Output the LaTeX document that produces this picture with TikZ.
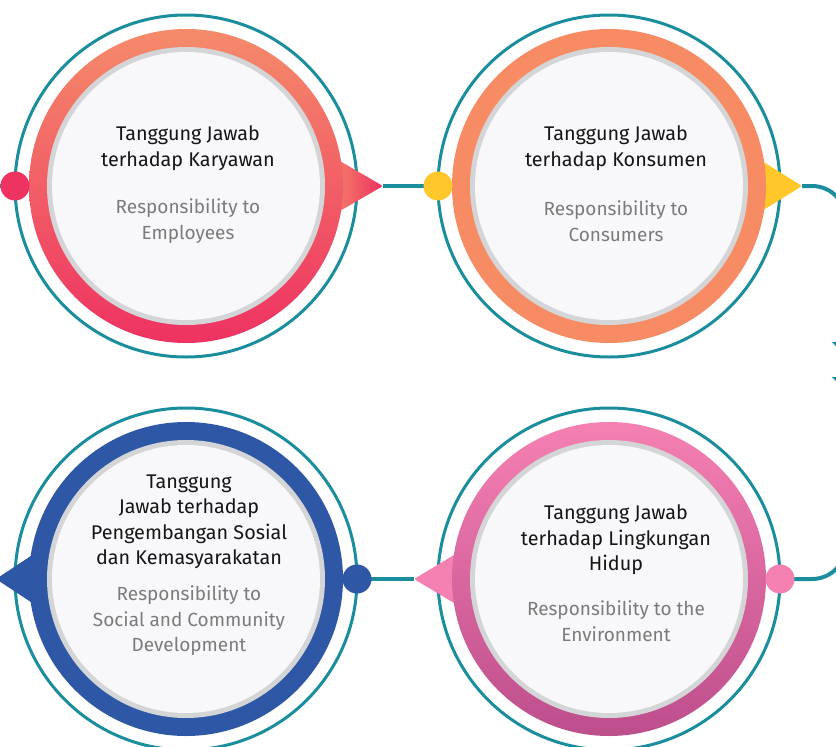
\documentclass[tikz,border=0pt]{standalone}
\usepackage{fontspec}
\setmainfont{Fira Sans}
\usetikzlibrary{positioning}
\definecolor{tealline}{HTML}{1B8E9E}
\definecolor{ringgray}{HTML}{D3D5D7}
\definecolor{innerfill}{HTML}{F8F8FB}
\definecolor{titlecol}{HTML}{151515}
\definecolor{subcol}{HTML}{7B7B7B}
\definecolor{coralA}{HTML}{F58B6A}
\definecolor{coralB}{HTML}{EE3262}
\definecolor{salmon}{HTML}{F78C64}
\definecolor{sunny}{HTML}{FFC72A}
\definecolor{royal}{HTML}{2E58A6}
\definecolor{pinkA}{HTML}{F580B2}
\definecolor{pinkB}{HTML}{BD4E8C}

\begin{document}
\begin{tikzpicture}[
    x=1pt, y=-1pt,
    outerring/.style={circle, draw=tealline, line width=3pt, minimum size=342pt,
                      inner sep=0pt, outer sep=0pt},
    dot/.style={circle, minimum size=29pt, inner sep=0pt, outer sep=0pt},
    link/.style={draw=tealline, line width=4pt},
    title/.style={font=\fontsize{19.8}{25.5}\selectfont, text=titlecol, align=center},
    sub/.style={font=\fontsize{19}{25.5}\selectfont, text=subcol, align=center},
  ]
    \useasboundingbox (0,0) rectangle (836,747);
    \clip (0,0) rectangle (836,747);

    %% ── Outer teal rings ─────────────────────────────────────
    \node[outerring] (emp) at (186,186) {};
    \node[outerring] (con) at (609,186) {};
    \node[outerring] (soc) at (186,579) {};
    \node[outerring] (env) at (609,579) {};

    %% ── Tips and free ends ───────────────────────────────────
    \coordinate (tipemp) at (383,186);
    \coordinate (tipcon) at (802,186);
    \coordinate (tipsoc) at (-4,579);
    \coordinate (tipenv) at (414,579);
    \coordinate (edge)   at (0,186);

    %% ── Connectors ───────────────────────────────────────────
    \draw[link] (edge) -- (emp.west);
    \draw[link] (tipemp) -- (con.west);
    \draw[link, rounded corners=34pt] (tipcon) -- (846,186) -- (846,579) -- (env.east);
    \draw[link] (soc.east) -- (tipenv);
    \fill[tealline] (832,342) -- (860,342) -- (846,357) -- cycle;
    \fill[tealline] (832,377) -- (860,377) -- (846,392) -- cycle;

    %% ── Pointers ─────────────────────────────────────────────
    \shade[left color=coralA, right color=coralB, rounded corners=2pt]
      (tipemp) -- (326,153) -- (326,219) -- cycle;
    \fill[sunny, rounded corners=2pt] (tipcon) -- (749,153) -- (749,219) -- cycle;
    \fill[royal, rounded corners=2pt] (tipsoc) -- (46,546) -- (46,612) -- cycle;
    \fill[pinkA, rounded corners=2pt] (tipenv) -- (469,546) -- (469,612) -- cycle;

    %% ── Coloured bands, grey rims, faces ─────────────────────
    \shade[top color=coralA, bottom color=coralB] (emp.center) circle (157pt);
    \fill[salmon] (con.center) circle (157pt);
    \fill[royal] (soc.center) circle (157pt);
    \shade[top color=pinkA, bottom color=pinkB] (env.center) circle (157pt);
    \foreach \c in {emp,con,soc,env}{
      \fill[ringgray] (\c.center) circle (139pt);
      \fill[innerfill] (\c.center) circle (134pt);
    }

    %% ── Texts ────────────────────────────────────────────────
    \node[title] (tEmp) at (188,148) {Tanggung Jawab\\terhadap Karyawan};
    \node[sub]   (sEmp) at (188,221) {Responsibility to\\Employees};
    \node[title] (tCon) at (616,148) {Tanggung Jawab\\terhadap Konsumen};
    \node[sub]   (sCon) at (616,221) {Responsibility to\\Consumers};
    \node[title] (tSoc) at (189,522) {Tanggung\\Jawab terhadap\\Pengembangan Sosial\\dan Kemasyarakatan};
    \node[sub]   (sSoc) at (189,621) {Responsibility to\\Social and Community\\Development};
    \node[title] (tEnv) at (616,540) {Tanggung Jawab\\terhadap Lingkungan\\Hidup};
    \node[sub]   (sEnv) at (616,621) {Responsibility to the\\Environment};

    %% ── Dots ─────────────────────────────────────────────────
    \node[dot, fill=coralB] (dEmp) at (emp.west) {};
    \node[dot, fill=sunny]  (dCon) at (con.west) {};
    \node[dot, fill=royal]  (dSoc) at (soc.east) {};
    \node[dot, fill=pinkA]  (dEnv) at (env.east) {};
\end{tikzpicture}
\end{document}
